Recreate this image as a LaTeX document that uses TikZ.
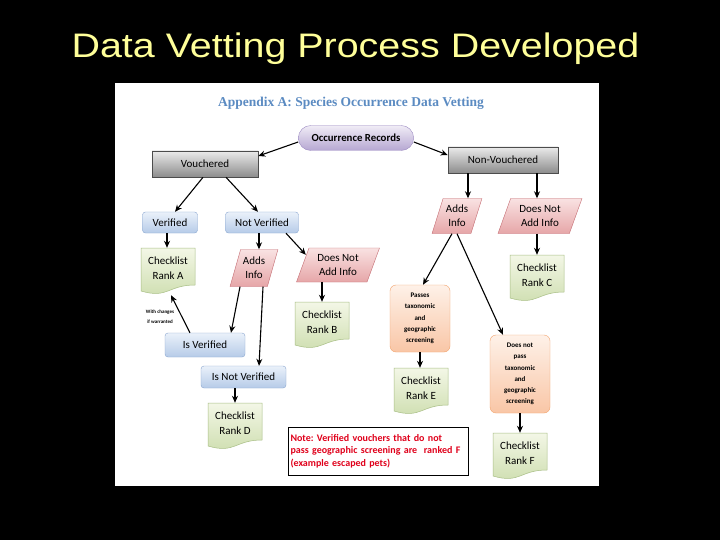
\documentclass[tikz,border=0pt]{standalone}
\usepackage{fontspec}
\setmainfont{Carlito}
\newfontfamily\titlefont{Liberation Sans}
\newfontfamily\headfont{Liberation Serif}
\usetikzlibrary{arrows.meta,shapes.geometric,shapes.misc}
\definecolor{slideyellow}{HTML}{FFFF99}
\definecolor{headblue}{HTML}{5B8BC2}
\definecolor{notered}{HTML}{E0001B}
\definecolor{bluetop}{HTML}{EAF1FA}
\definecolor{bluebot}{HTML}{B6CBE8}
\definecolor{bluebd}{HTML}{8AA6CF}
\definecolor{pinktop}{HTML}{F9E2E2}
\definecolor{pinkbot}{HTML}{E6A6A8}
\definecolor{pinkbd}{HTML}{C46C72}
\definecolor{greentop}{HTML}{F3F7E6}
\definecolor{greenbot}{HTML}{CDDDAE}
\definecolor{greenbd}{HTML}{A9BF86}
\definecolor{orangetop}{HTML}{FEF1E8}
\definecolor{orangebot}{HTML}{F9C6A6}
\definecolor{orangebd}{HTML}{F2A46E}
\definecolor{purpletop}{HTML}{F0ECF6}
\definecolor{purplebot}{HTML}{B6A7D2}
\definecolor{purplebd}{HTML}{9C8AC2}
\frenchspacing
\newcommand{\checklist}[4]{%
  \shade[docbox] (#2-27,#3-23) -- (#2+27,#3-23) -- (#2+27,#3+14)
    .. controls (#2,#3+14) and (#2,#3+28) .. (#2-27,#3+20) -- cycle;
  \node[doctext] (#1) at (#2,#3-3) {Checklist\\Rank #4};}

\begin{document}
\begin{tikzpicture}[x=1pt,y=-1pt,>={Stealth[length=7pt,width=6pt]},
  font=\fontsize{11}{14}\selectfont,
  arr/.style={->,line width=1.1pt},
  graybox/.style={draw=black!70,line width=0.6pt,top color=black!8,bottom color=black!45,minimum height=26pt},
  bluebox/.style={rounded corners=3pt,draw=bluebd,top color=bluetop,bottom color=bluebot},
  pinkpar/.style={trapezium,trapezium left angle=68,trapezium right angle=112,trapezium stretches=true,
    draw=pinkbd,top color=pinktop,bottom color=pinkbot,align=center,inner sep=1pt},
  orangebox/.style={rounded corners=6pt,draw=orangebd,top color=orangetop,bottom color=orangebot,
    align=center,minimum width=60pt,font=\fontsize{7}{11.2}\selectfont\bfseries},
  docbox/.style={draw=greenbd,line width=0.5pt,top color=greentop,bottom color=greenbot},
  doctext/.style={align=center,minimum width=54pt,minimum height=40pt,inner sep=0pt,font=\fontsize{11}{15}\selectfont}]
 \fill[black] (0,0) rectangle (720,540);
 \fill[white] (115,83) rectangle (599,486);
 \node[anchor=base,xscale=1.16,text=slideyellow,font=\titlefont\fontsize{34}{40}\selectfont] (title) at (355.5,58) {Data Vetting Process Developed};
 \node[text=headblue,font=\headfont\bfseries\fontsize{13.5}{16}\selectfont] (head) at (351,103) {Appendix A: Species Occurrence Data Vetting};

 \node[rounded rectangle,draw=purplebd,top color=purpletop,bottom color=purplebot,minimum width=122pt,minimum height=25pt,font=\fontsize{10.8}{13}\selectfont\bfseries] (occ) at (356,138) {Occurrence Records};
 \node[graybox,minimum width=106pt] (vouch) at (205,164) {Vouchered};
 \node[graybox,minimum width=110pt] (nonv) at (503,160) {Non-Vouchered};
 \node[bluebox,minimum width=55pt,minimum height=21pt] (verif) at (170,222.5) {Verified};
 \node[bluebox,minimum width=73pt,minimum height=21pt] (notver) at (262,222.5) {Not Verified};
 \node[pinkpar,minimum width=48pt,minimum height=37pt] (addL) at (254,268) {Adds\\Info};
 \node[pinkpar,minimum width=83pt,minimum height=34pt] (noaddL) at (338,265) {Does Not\\Add Info};
 \node[bluebox,minimum width=80pt,minimum height=24pt] (isver) at (205,345) {Is Verified};
 \node[bluebox,minimum width=85pt,minimum height=22pt] (isnot) at (243.5,377) {Is Not Verified};
 \node[pinkpar,minimum width=50pt,minimum height=35pt] (addR) at (457,216) {Adds\\Info};
 \node[pinkpar,minimum width=84pt,minimum height=35pt] (noaddR) at (540,216) {Does Not\\Add Info};
 \node[orangebox,minimum height=67pt] (pass) at (420,318.5) {Passes\\taxonomic\\and\\geographic\\screening};
 \node[orangebox,minimum height=78pt] (nopass) at (520,374) {Does not\\pass\\taxonomic\\and\\geographic\\screening};

 \checklist{rA}{168}{271}{A}
 \checklist{rB}{322}{325}{B}
 \checklist{rC}{537}{278}{C}
 \checklist{rD}{235}{426}{D}
 \checklist{rE}{421}{391}{E}
 \checklist{rF}{520}{456}{F}

 \node[draw=black,line width=0.7pt,minimum width=180pt,minimum height=48pt,text width=175pt,align=left,inner sep=2pt,
   text=notered,font=\fontsize{10}{12.5}\selectfont\bfseries] (note) at (378,451)
   {Note: Verified vouchers that do not\\pass geographic screening are~~ranked F\\(example escaped pets)};
 \node[align=center,font=\fontsize{5}{10}\selectfont\bfseries] (chg) at (160,317) {With changes\\if warranted};

 \draw[arr] ([yshift=-4pt]occ.west) -- ([yshift=8pt]vouch.east);
 \draw[arr] ([yshift=-4pt]occ.east) -- ([yshift=5pt]nonv.west);
 \draw[arr] ([xshift=-2pt]vouch.south) -- ([xshift=5pt]verif.north);
 \draw[arr] ([xshift=21pt]vouch.south) -- ([xshift=-4pt]notver.north);
 \draw[arr] ([xshift=-3pt]verif.south) -- ([xshift=-3pt]verif.south |- rA.north);
 \draw[arr] ([xshift=-3pt]notver.south) -- ([xshift=-3pt]notver.south |- addL.north);
 \draw[arr] ([xshift=24pt]notver.south) -- ([xshift=-3pt,yshift=-7pt]noaddL.top left corner);
 \draw[arr] (rB.north |- noaddL.south) -- (rB.north);
 \draw[arr] ([xshift=-14pt]addL.south) -- ([xshift=26pt]isver.north);
 \draw[arr] ([xshift=9pt]addL.south) -- ([xshift=15.5pt]isnot.north);
 \draw[arr] ([xshift=-15pt]isver.north) -- ([xshift=3pt,yshift=-7pt]rA.south);
 \draw[arr] (rD.north |- isnot.south) -- (rD.north);
 \draw[arr] ([xshift=-35pt]nonv.south) -- ([xshift=-35pt]nonv.south |- addR.north);
 \draw[arr] ([xshift=34pt]nonv.south) -- ([xshift=34pt]nonv.south |- noaddR.north);
 \draw[arr] (rC.north |- noaddR.south) -- (rC.north);
 \draw[arr] ([xshift=-5pt]addR.south) -- ([xshift=3pt]pass.north);
 \draw[arr] (addR.south) -- ([xshift=-17pt]nopass.north);
 \draw[arr] (pass.south) -- (pass.south |- rE.north);
 \draw[arr] (nopass.south) -- (nopass.south |- rF.north);
\end{tikzpicture}
\end{document}
